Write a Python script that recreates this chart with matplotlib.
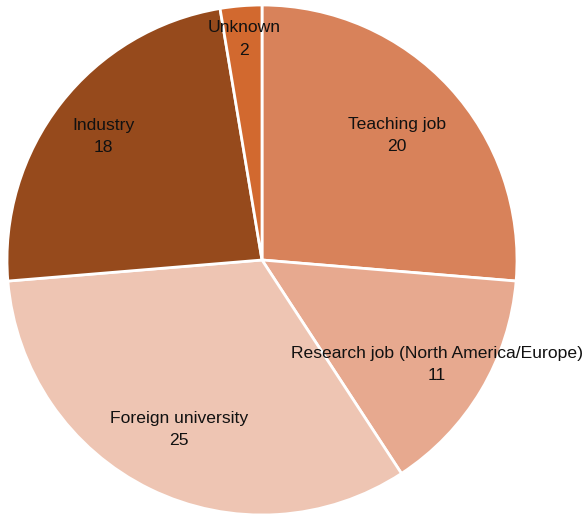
import matplotlib.pyplot as plt
import numpy as np

labels = ["Teaching job", "Research job (North America/Europe)", "Foreign university", "Industry", "Unknown"]
counts = [20, 11, 25, 18, 2]
colors = ["#D8825A", "#E7A98F", "#EEC5B3", "#964A1C", "#D2692F"]
label_dist = [0.72, 0.80, 0.74, 0.79, 0.87]

plt.rcParams['font.family'] = ['Liberation Sans', 'DejaVu Sans']

fig = plt.figure(figsize=(5.87, 5.14), dpi=100)
ax = fig.add_axes([7 / 587, -1 / 514, 510 / 587, 510 / 514])

wedges, _ = ax.pie(counts, colors=colors, startangle=90, counterclock=False,
                   wedgeprops=dict(edgecolor="white", linewidth=2))

for w, lab, n, d in zip(wedges, labels, counts, label_dist):
    mid = np.deg2rad((w.theta1 + w.theta2) / 2)
    ax.text(d * np.cos(mid), d * np.sin(mid), f"{lab}\n{n}", ha="center", va="center",
            fontsize=12.6, linespacing=1.6, color="#111111")

ax.set_xlim(-1, 1)
ax.set_ylim(-1, 1)
ax.set_aspect("equal")
ax.axis("off")

fig.savefig("out.png", dpi=100)
